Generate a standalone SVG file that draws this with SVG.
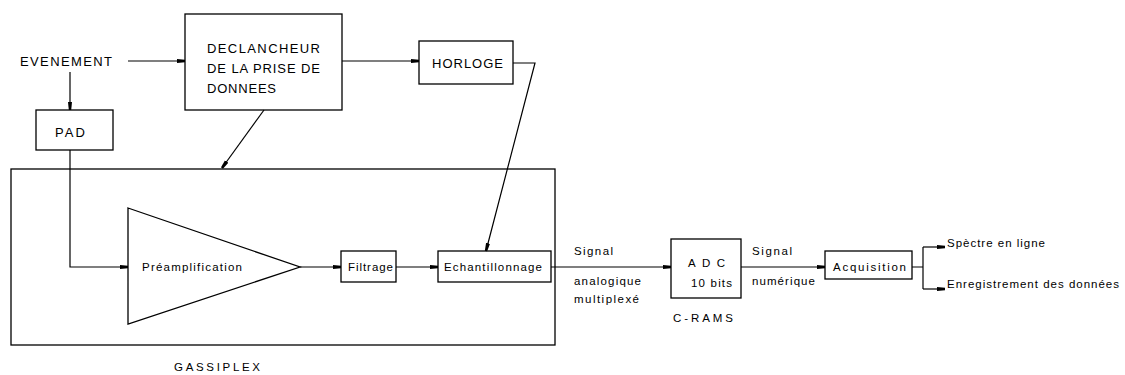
<svg xmlns="http://www.w3.org/2000/svg" width="1125" height="375" viewBox="0 0 1125 375">
<style>
.box{fill:none;stroke:#000;stroke-width:1.3}
.ln{fill:none;stroke:#000;stroke-width:1.2}
.t{font-family:"Liberation Sans",Arial,sans-serif;font-size:11.5px;fill:#000}
.c{font-family:"Liberation Sans",Arial,sans-serif;font-size:13px;fill:#000}
</style>
<defs>
<marker id="ah" markerUnits="userSpaceOnUse" markerWidth="10" markerHeight="6" refX="8" refY="3" orient="auto">
<path d="M0,1 L8,1.8 L8,4.2 L0,5 z" fill="#000"/>
</marker>
</defs>
<rect width="1125" height="375" fill="#fff"/>
<g id="connectors">
<path class="ln" d="M128,61 H185" marker-end="url(#ah)"/>
<path class="ln" d="M342,61 H419" marker-end="url(#ah)"/>
<path class="ln" d="M70,72 V110" marker-end="url(#ah)"/>
<path class="ln" d="M70,150 V267 H128" marker-end="url(#ah)"/>
<path class="ln" d="M264,110 L222,168" marker-end="url(#ah)"/>
<path class="ln" d="M513,63 H535 L486,251" marker-end="url(#ah)"/>
<path class="ln" d="M300,267 H341" marker-end="url(#ah)"/>
<path class="ln" d="M396,267 H438" marker-end="url(#ah)"/>
<path class="ln" d="M551,267 H671" marker-end="url(#ah)"/>
<path class="ln" d="M741,267 H825" marker-end="url(#ah)"/>
<path class="ln" d="M912,267 H923 M923,247 V289"/>
<path class="ln" d="M923,247 H945" marker-end="url(#ah)"/>
<path class="ln" d="M923,289 H945" marker-end="url(#ah)"/>
</g>
<g id="evenement">
<text class="c" x="20" y="66" textLength="92" lengthAdjust="spacing">EVENEMENT</text>
</g>
<g id="declancheur">
<rect class="box" x="185" y="14" width="157" height="96"/>
<text class="c" x="207" y="53" textLength="113" lengthAdjust="spacing">DECLANCHEUR</text>
<text class="c" x="207" y="73" textLength="113" lengthAdjust="spacing">DE LA PRISE DE</text>
<text class="c" x="207" y="93" textLength="69" lengthAdjust="spacing">DONNEES</text>
</g>
<g id="horloge">
<rect class="box" x="419" y="41" width="94" height="43"/>
<text class="c" x="432" y="68" textLength="71" lengthAdjust="spacing">HORLOGE</text>
</g>
<g id="pad">
<rect class="box" x="36" y="110" width="77" height="40"/>
<text class="c" x="55" y="137" textLength="30" lengthAdjust="spacing">PAD</text>
</g>
<g id="gassiplex">
<rect class="box" x="11" y="169" width="544" height="176"/>
<text class="t" x="174" y="371" textLength="86" lengthAdjust="spacing">GASSIPLEX</text>
</g>
<g id="preamplification">
<path class="box" d="M128,208 L300,267 L128,324 Z"/>
<text class="t" x="142" y="271" textLength="100" lengthAdjust="spacing">Préamplification</text>
</g>
<g id="filtrage">
<rect class="box" x="341" y="251" width="55" height="31"/>
<text class="t" x="348" y="271" textLength="45" lengthAdjust="spacing">Filtrage</text>
</g>
<g id="echantillonnage">
<rect class="box" x="438" y="251" width="113" height="31"/>
<text class="t" x="444" y="271" textLength="98" lengthAdjust="spacing">Echantillonnage</text>
</g>
<g id="signal-analogique">
<text class="t" x="574" y="255" textLength="39" lengthAdjust="spacing">Signal</text>
<text class="t" x="574" y="285" textLength="67" lengthAdjust="spacing">analogique</text>
<text class="t" x="574" y="303" textLength="65" lengthAdjust="spacing">multiplexé</text>
</g>
<g id="adc">
<rect class="box" x="671" y="239" width="70" height="59"/>
<text class="t" x="688" y="267" textLength="37" lengthAdjust="spacing">ADC</text>
<text class="t" x="691" y="287" textLength="41" lengthAdjust="spacing">10 bits</text>
<text class="t" x="673" y="322" textLength="60" lengthAdjust="spacing">C-RAMS</text>
</g>
<g id="signal-numerique">
<text class="t" x="752" y="255" textLength="40" lengthAdjust="spacing">Signal</text>
<text class="t" x="752" y="285" textLength="63" lengthAdjust="spacing">numérique</text>
</g>
<g id="acquisition">
<rect class="box" x="825" y="251" width="87" height="28"/>
<text class="t" x="833" y="271" textLength="73" lengthAdjust="spacing">Acquisition</text>
</g>
<g id="spectre">
<text class="t" x="947" y="247" textLength="98" lengthAdjust="spacing">Spèctre en ligne</text>
</g>
<g id="enregistrement">
<text class="t" x="947" y="288" textLength="172" lengthAdjust="spacing">Enregistrement des données</text>
</g>
</svg>
